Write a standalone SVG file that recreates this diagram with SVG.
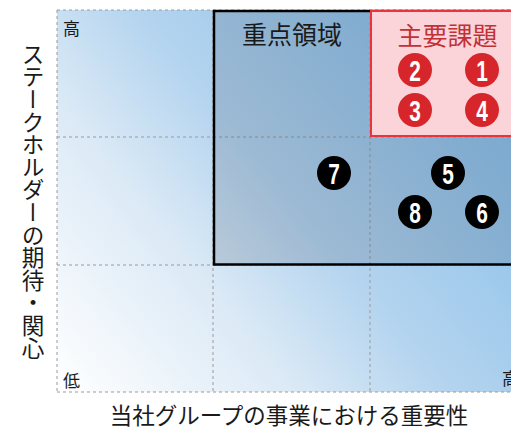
<svg xmlns="http://www.w3.org/2000/svg" width="511" height="428" viewBox="0 0 511 428">
<defs>
<linearGradient id="bg" x1="57" y1="392" x2="527" y2="10" gradientUnits="userSpaceOnUse">
<stop offset="0" stop-color="#ffffff"/>
<stop offset="0.3" stop-color="#dceaf6"/>
<stop offset="0.5" stop-color="#b4d4ef"/>
<stop offset="0.8" stop-color="#92c3ea"/>
<stop offset="1" stop-color="#84bbe7"/>
</linearGradient>
<style>
.grid{fill:none;stroke:#9a9a9a;stroke-width:1;stroke-dasharray:3 3}
.jp{font-family:"Noto Sans CJK JP","Noto Sans",sans-serif}
.num{font-family:"Liberation Sans",Arial,sans-serif;font-weight:bold;font-size:29px;fill:#fff;text-anchor:middle}
.red circle{fill:#d7262b}
.blk circle{fill:#000}
</style>
</defs>
<rect width="511" height="428" fill="#fff"/>
<g id="chart">
<rect x="57" y="10" width="470" height="382" fill="url(#bg)"/>
<path class="grid" d="M57 10H527M57 137H527M57 265H527M57 392H527M57 10V392M213 10V392M370 10V392"/>
</g>
<g id="focus-area">
<rect x="214" y="11" width="320" height="253.5" fill="#1a2a3a" fill-opacity="0.15" stroke="#000" stroke-width="2.5"/>
<text class="jp" x="292" y="44" font-size="25" fill="#1a1a1a" text-anchor="middle">重点領域</text>
</g>
<g id="key-issues">
<rect x="371" y="11" width="160" height="125" fill="#fad4d8" stroke="#e8343a" stroke-width="2"/>
<text class="jp" x="447.5" y="45" font-size="25" fill="#c23038" text-anchor="middle">主要課題</text>
</g>
<g id="issue-2" class="red" transform="translate(415,70)"><circle r="17"/><text class="num" transform="scale(0.72,1)" y="10.5">2</text></g>
<g id="issue-1" class="red" transform="translate(482,70)"><circle r="17"/><text class="num" transform="scale(0.72,1)" y="10.5">1</text></g>
<g id="issue-3" class="red" transform="translate(415,110)"><circle r="17"/><text class="num" transform="scale(0.72,1)" y="10.5">3</text></g>
<g id="issue-4" class="red" transform="translate(482,110)"><circle r="17"/><text class="num" transform="scale(0.72,1)" y="10.5">4</text></g>
<g id="issue-7" class="blk" transform="translate(334,173)"><circle r="17"/><text class="num" transform="scale(0.72,1)" y="10.5">7</text></g>
<g id="issue-5" class="blk" transform="translate(448,173)"><circle r="17"/><text class="num" transform="scale(0.72,1)" y="10.5">5</text></g>
<g id="issue-8" class="blk" transform="translate(415,212)"><circle r="17"/><text class="num" transform="scale(0.72,1)" y="10.5">8</text></g>
<g id="issue-6" class="blk" transform="translate(482,212)"><circle r="17"/><text class="num" transform="scale(0.72,1)" y="10.5">6</text></g>
<g id="labels" class="jp" fill="#1a1a1a">
<text x="63" y="35" font-size="17">高</text>
<text x="63" y="387" font-size="17">低</text>
<text x="502" y="385" font-size="17">高</text>
<text x="289" y="424" font-size="22.5" text-anchor="middle">当社グループの事業における重要性</text>
<text x="33" y="43" font-size="22.6" style="writing-mode:vertical-rl">ステークホルダーの期待・関心</text>
</g>
</svg>
